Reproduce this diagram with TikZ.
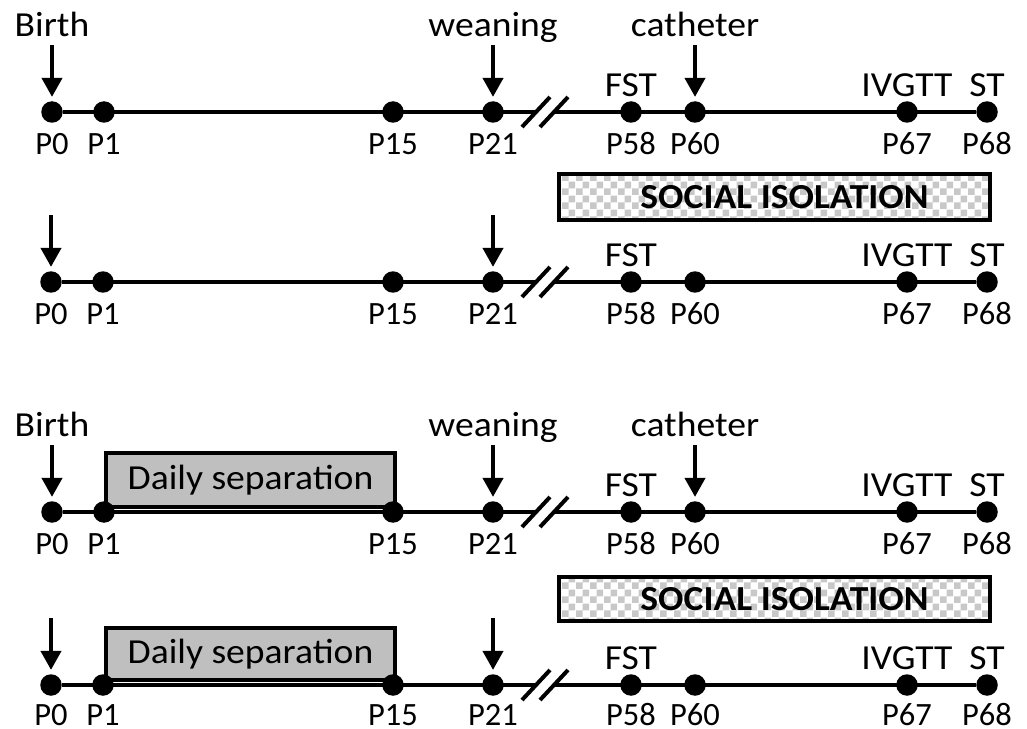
\documentclass[tikz,border=0pt]{standalone}
\usepackage{fontspec}
\setmainfont{Carlito}
\newfontfamily\wordfont{Carlito}[FakeStretch=1.07]
\usetikzlibrary{positioning,arrows.meta,patterns}

\definecolor{sepgray}{RGB}{191,191,191}
\definecolor{checkgray}{RGB}{200,200,200}

\pgfdeclarepatternformonly{isochecks}{\pgfpointorigin}{\pgfqpoint{8pt}{8pt}}{\pgfqpoint{8pt}{8pt}}{%
    \pgfpathrectangle{\pgfpointorigin}{\pgfqpoint{4pt}{4pt}}%
    \pgfpathrectangle{\pgfqpoint{4pt}{4pt}}{\pgfqpoint{4pt}{4pt}}%
    \pgfusepath{fill}}

\tikzset{
    day/.style = {
        font=\fontsize{18.5}{22}\selectfont,
        inner sep=0pt,
        text height=12pt,
        text depth=0pt,
        },
    event/.style = {
        font=\wordfont\fontsize{20}{24}\selectfont,
        inner sep=0pt,
        text depth=0pt,
        },
    dot/.style = {
        circle,
        fill=black,
        inner sep=0pt,
        minimum size=0.43cm,
        },
    tl/.style = {
        line width=0.08cm,
        },
    arr/.style = {
        line width=0.08cm,
        -{Triangle[length=0.38cm,width=0.4cm]},
        shorten <=0.16cm,
        shorten >=0.08cm,
        },
    sepbox/.style = {
        event,
        text depth=,
        draw,
        line width=0.08cm,
        fill=sepgray,
        },
    isobox/.style = {
        font=\wordfont\fontsize{20}{24}\selectfont\bfseries,
        inner sep=0pt,
        draw,
        line width=0.08cm,
        pattern=isochecks,
        pattern color=checkgray,
        },
}

\begin{document}
\begin{tikzpicture}[x=0.02cm, y=-0.02cm]
    \useasboundingbox (0,0) rectangle (1027,729);

    % first timeline
    \foreach \p/\x in {0/52,1/104,15/393,21/493,58/631,60/695,67/907,68/987}
        \node[dot, label={[day,label distance=0.19cm]below:P\p}] (a\p) at (\x,112) {};
    \node[event, above=0.08cm of a58] (a-fst) {FST};
    \node[event, above=0.08cm of a67] (a-ivgtt) {IVGTT};
    \node[event, above=0.08cm of a68] (a-st) {ST};
    \node[event, above=1.28cm of a0] (a-birth) {Birth};
    \node[event, above=1.28cm of a21] (a-wean) {weaning};
    \node[event, above=1.28cm of a60] (a-cath) {catheter};
    \draw[arr] (a-birth) -- (a0);
    \draw[arr] (a-wean) -- (a21);
    \draw[arr] (a-cath) -- (a60);
    \coordinate (a-brk1) at (536,112);
    \coordinate (a-brk2) at (554,112);
    \draw[tl] (a0) -- (a-brk1);
    \draw[tl] (a-brk2) -- (a68);
    \draw[tl] (a-brk1) ++(-14,15) -- ++(28,-30);
    \draw[tl] (a-brk2) ++(-14,15) -- ++(28,-30);

    \node[isobox, minimum width=8.62cm, minimum height=0.92cm] (a-iso) at (774.5,197) {\hspace*{0.4cm}SOCIAL ISOLATION};

    % second timeline
    \foreach \p/\x in {0/51,1/103,15/393,21/493,58/631,60/695,67/907,68/987}
        \node[dot, label={[day,label distance=0.19cm]below:P\p}] (b\p) at (\x,282) {};
    \node[event, above=0.08cm of b58] (b-fst) {FST};
    \node[event, above=0.08cm of b67] (b-ivgtt) {IVGTT};
    \node[event, above=0.08cm of b68] (b-st) {ST};
    \coordinate (b-arr0) at (51,215);
    \coordinate (b-arr21) at (493,215);
    \draw[arr, shorten <=0pt] (b-arr0) -- (b0);
    \draw[arr, shorten <=0pt] (b-arr21) -- (b21);
    \coordinate (b-brk1) at (536,282);
    \coordinate (b-brk2) at (554,282);
    \draw[tl] (b0) -- (b-brk1);
    \draw[tl] (b-brk2) -- (b68);
    \draw[tl] (b-brk1) ++(-14,15) -- ++(28,-30);
    \draw[tl] (b-brk2) ++(-14,15) -- ++(28,-30);

    % third timeline
    \node[sepbox, minimum width=5.78cm, minimum height=1.08cm, anchor=south west] (c-sep) at (104,509) {Daily separation};
    \foreach \p/\x in {0/52,1/104,15/393,21/493,58/631,60/695,67/907,68/987}
        \node[dot, label={[day,label distance=0.19cm]below:P\p}] (c\p) at (\x,512) {};
    \node[event, above=0.08cm of c58] (c-fst) {FST};
    \node[event, above=0.08cm of c67] (c-ivgtt) {IVGTT};
    \node[event, above=0.08cm of c68] (c-st) {ST};
    \node[event, above=1.28cm of c0] (c-birth) {Birth};
    \node[event, above=1.28cm of c21] (c-wean) {weaning};
    \node[event, above=1.28cm of c60] (c-cath) {catheter};
    \draw[arr] (c-birth) -- (c0);
    \draw[arr] (c-wean) -- (c21);
    \draw[arr] (c-cath) -- (c60);
    \coordinate (c-brk1) at (536,512);
    \coordinate (c-brk2) at (554,512);
    \draw[tl] (c0) -- (c-brk1);
    \draw[tl] (c-brk2) -- (c68);
    \draw[tl] (c-brk1) ++(-14,15) -- ++(28,-30);
    \draw[tl] (c-brk2) ++(-14,15) -- ++(28,-30);

    \node[isobox, minimum width=8.62cm, minimum height=0.88cm] (c-iso) at (774.5,599) {\hspace*{0.4cm}SOCIAL ISOLATION};

    % fourth timeline
    \node[sepbox, minimum width=5.78cm, minimum height=1.04cm, anchor=south west] (d-sep) at (104,682) {Daily separation};
    \foreach \p/\x in {0/51,1/103,15/393,21/493,58/631,60/695,67/907,68/987}
        \node[dot, label={[day,label distance=0.15cm]below:P\p}] (d\p) at (\x,685) {};
    \node[event, above=0.08cm of d58] (d-fst) {FST};
    \node[event, above=0.08cm of d67] (d-ivgtt) {IVGTT};
    \node[event, above=0.08cm of d68] (d-st) {ST};
    \coordinate (d-arr0) at (51,618);
    \coordinate (d-arr21) at (493,618);
    \draw[arr, shorten <=0pt] (d-arr0) -- (d0);
    \draw[arr, shorten <=0pt] (d-arr21) -- (d21);
    \coordinate (d-brk1) at (536,685);
    \coordinate (d-brk2) at (554,685);
    \draw[tl] (d0) -- (d-brk1);
    \draw[tl] (d-brk2) -- (d68);
    \draw[tl] (d-brk1) ++(-14,15) -- ++(28,-30);
    \draw[tl] (d-brk2) ++(-14,15) -- ++(28,-30);
\end{tikzpicture}
\end{document}
